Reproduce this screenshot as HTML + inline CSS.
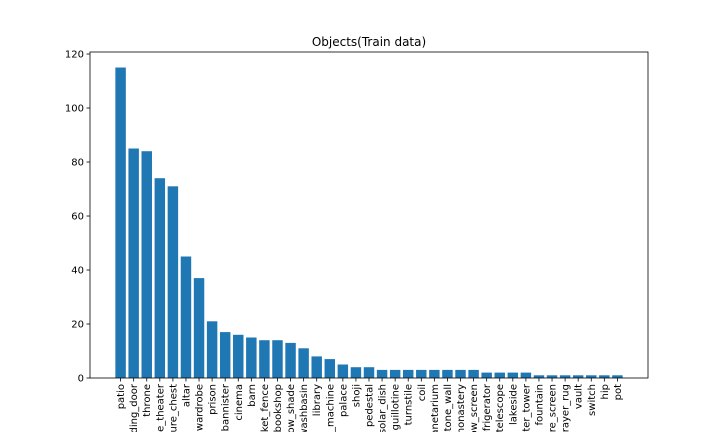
<!DOCTYPE html>
<html><head><meta charset="utf-8"><style>html,body{margin:0;background:#fff;overflow:hidden;width:720px;height:432px}svg{display:block;overflow:hidden;font-family:"DejaVu Sans","Liberation Sans",sans-serif}</style></head>
<body>
<svg id="c" width="720" height="432" viewBox="0 0 720 432"></svg>
<script>
const categories=["patio","sliding_door","throne","home_theater","treasure_chest","altar","wardrobe","prison","bannister","cinema","barn","picket_fence","bookshop","window_shade","washbasin","library","slot_machine","palace","shoji","pedestal","solar_dish","guillotine","turnstile","coil","planetarium","stone_wall","monastery","window_screen","refrigerator","telescope","lakeside","water_tower","fountain","fire_screen","prayer_rug","vault","switch","hip","pot"];
const values=[115,85,84,74,71,45,37,21,17,16,15,14,14,13,11,8,7,5,4,4,3,3,3,3,3,3,3,3,2,2,2,2,1,1,1,1,1,1,1];
const yTicks=[0,20,40,60,80,100,120];
const NS="http://www.w3.org/2000/svg";
const svg=document.getElementById('c');
const L=90,R=648,T=52,B=378;
const n=categories.length;
const xmin=-0.4-0.05*(n-1+0.8),xmax=n-1+0.4+0.05*(n-1+0.8);
const ymax=Math.max(...values)*1.05;
const x=i=>L+(i-xmin)/(xmax-xmin)*(R-L);
const y=v=>B-v/ymax*(B-T);
function mk(t,a){const e=document.createElementNS(NS,t);for(const k in a)e.setAttribute(k,a[k]);svg.appendChild(e);return e;}
const bw=0.8*(R-L)/(xmax-xmin);
values.forEach((v,i)=>{const r=mk('rect',{x:x(i)-bw/2,y:y(v),width:bw,height:B-y(v),fill:'#1f77b4'});

});
const ax=mk('rect',{x:L,y:T,width:R-L,height:B-T,fill:'none',stroke:'#000','stroke-width':0.8});


yTicks.forEach(t=>{mk('line',{x1:L-3.5,x2:L,y1:y(t),y2:y(t),stroke:'#000','stroke-width':0.8});
const tx=mk('text',{x:L-6,y:y(t)+3.5,'text-anchor':'end','font-size':10});tx.textContent=t;

});
categories.forEach((c,i)=>{const px=x(i);mk('line',{x1:px,x2:px,y1:B,y2:B+3.5,stroke:'#000','stroke-width':0.8});
const tx=mk('text',{x:0,y:0,'text-anchor':'end','font-size':10,transform:`translate(${px+3.5},${B+6}) rotate(-90)`});tx.textContent=c;

});
const ti=mk('text',{x:(L+R)/2,y:46,'text-anchor':'middle','font-size':12});ti.textContent='Objects(Train data)';


</script>
</body></html>
